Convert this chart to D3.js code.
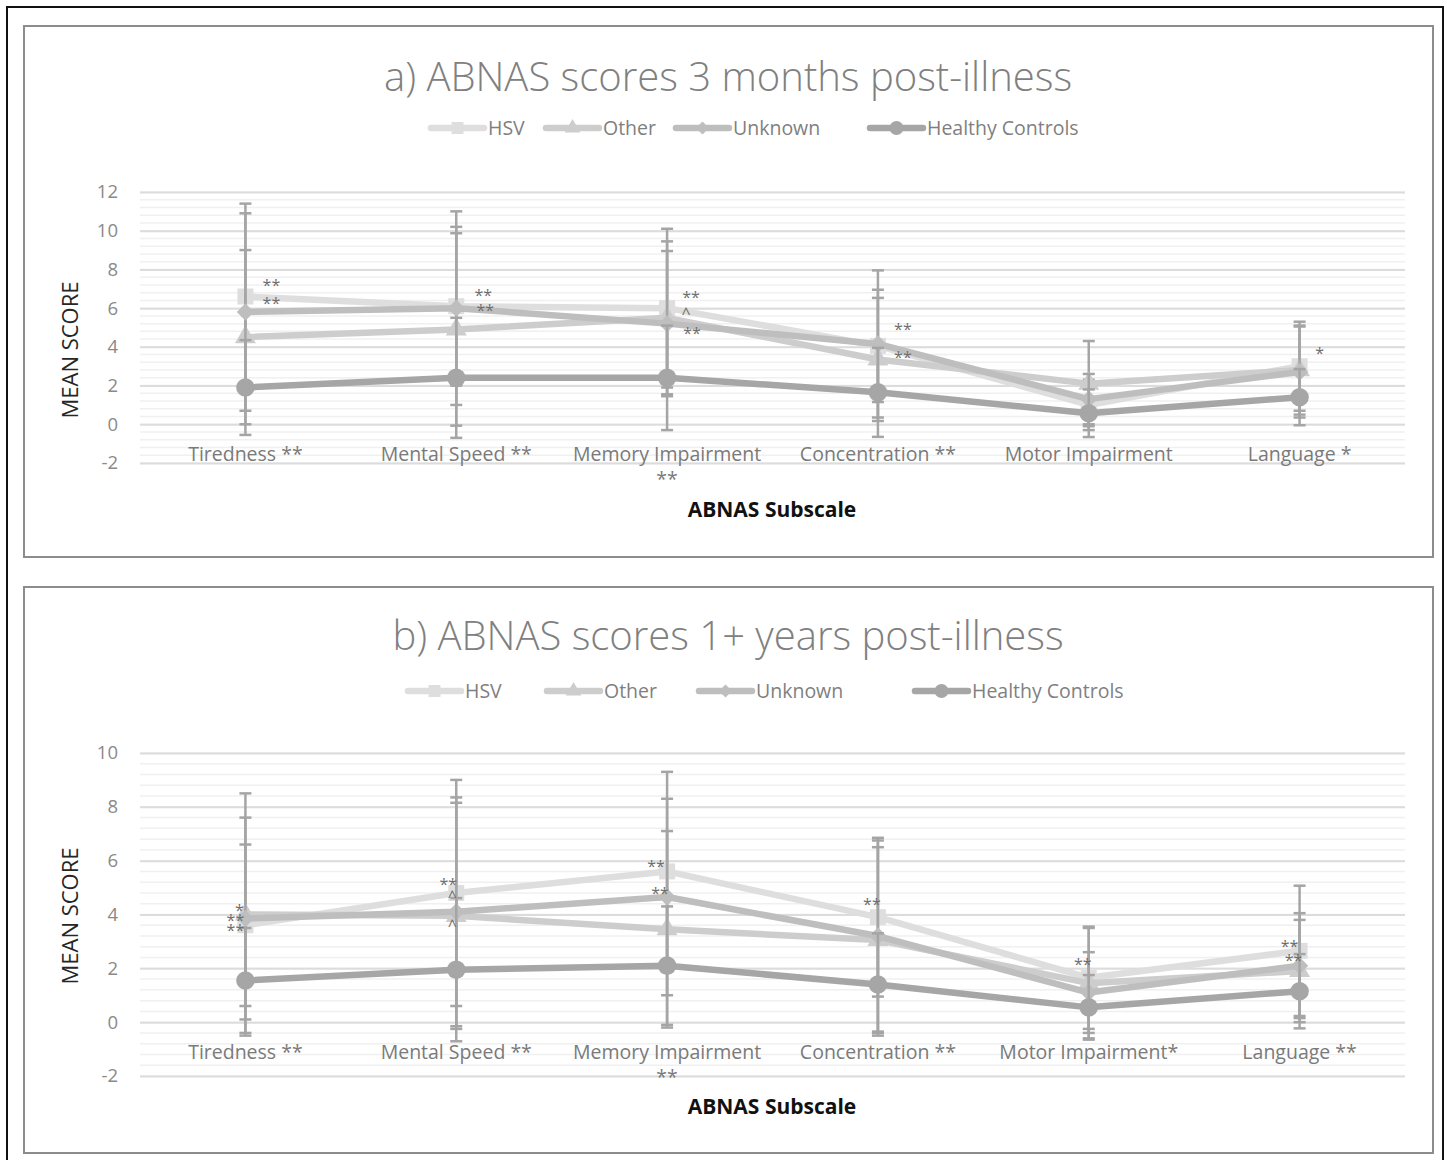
<!DOCTYPE html>
<html>
<head>
<meta charset="utf-8">
<script src="https://cdn.jsdelivr.net/npm/d3@7"></script>
<style>
  body { margin: 0; background: #fff; }
  svg { display: block; }
</style>
</head>
<body>
<div id="chart"></div>
<script>
// ---- data ----
const categories = ["Tiredness", "Mental Speed", "Memory Impairment", "Concentration", "Motor Impairment", "Language"];
const seriesNames = ["HSV", "Other", "Unknown", "Healthy Controls"];

// a) 3 months post-illness
const labelsA = ["Tiredness **", "Mental Speed **", "Memory Impairment|**", "Concentration **", "Motor Impairment", "Language *"];
const hsvA     = [6.6, 6.1, 6.0, 4.05, 1.0, 3.0];
const otherA   = [4.5, 4.9, 5.5, 3.35, 2.1, 2.8];
const unknownA = [5.8, 6.0, 5.2, 4.15, 1.3, 2.7];
const hcA      = [1.9, 2.4, 2.4, 1.65, 0.57, 1.4];
const hsvSdA     = [4.8, 4.1, 4.1, 2.9, 1.3, 2.3];
const otherSdA   = [4.5, 4.97, 3.95, 3.18, 2.2, 2.3];
const unknownSdA = [5.1, 5.0, 3.75, 3.8, 1.3, 2.35];
const hcSdA      = [2.45, 3.1, 2.7, 2.3, 1.23, 1.45];
const yTicksA = [-2, 0, 2, 4, 6, 8, 10, 12];
const notesA = [
  { cat: 0, v: 7.2, t: "**", dx: 26 }, { cat: 0, v: 6.27, t: "**", dx: 26 },
  { cat: 1, v: 6.66, t: "**", dx: 27 }, { cat: 1, v: 5.89, t: "**", dx: 29 },
  { cat: 2, v: 6.58, t: "**", dx: 24 }, { cat: 2, v: 5.75, t: "^", dx: 19 }, { cat: 2, v: 4.71, t: "**", dx: 25 },
  { cat: 3, v: 4.9, t: "**", dx: 25 }, { cat: 3, v: 3.46, t: "**", dx: 25 },
  { cat: 5, v: 3.67, t: "*", dx: 20 }
];

// b) 1+ years post-illness
const labelsB = ["Tiredness **", "Mental Speed **", "Memory Impairment|**", "Concentration **", "Motor Impairment*", "Language **"];
const hsvB     = [3.6, 4.8, 5.6, 3.9, 1.65, 2.65];
const otherB   = [4.0, 3.95, 3.45, 3.05, 1.45, 1.9];
const unknownB = [3.85, 4.1, 4.65, 3.2, 1.1, 2.1];
const hcB      = [1.55, 1.95, 2.1, 1.4, 0.55, 1.15];
const hsvSdB     = [3.0, 4.2, 3.7, 2.95, 1.9, 2.42];
const otherSdB   = [4.5, 4.2, 3.65, 3.45, 2.05, 1.9];
const unknownSdB = [3.75, 4.25, 3.65, 3.55, 1.5, 1.95];
const hcSdB      = [1.95, 2.66, 2.2, 1.9, 1.2, 1.38];
const yTicksB = [-2, 0, 2, 4, 6, 8, 10];
const notesB = [
  { cat: 0, v: 4.17, t: "*", dx: -6 }, { cat: 0, v: 3.79, t: "**", dx: -10 }, { cat: 0, v: 3.42, t: "**", dx: -10 },
  { cat: 1, v: 5.13, t: "**", dx: -8 }, { cat: 1, v: 4.66, t: "^", dx: -4 }, { cat: 1, v: 3.61, t: "^", dx: -4 },
  { cat: 2, v: 5.78, t: "**", dx: -11 }, { cat: 2, v: 4.79, t: "**", dx: -7 },
  { cat: 3, v: 4.39, t: "**", dx: -6 },
  { cat: 4, v: 2.16, t: "**", dx: -6 },
  { cat: 5, v: 2.83, t: "**", dx: -10 }, { cat: 5, v: 2.28, t: "**", dx: -6 }
];

// ---- styles ----
const FONT = "'Open Sans', 'Noto Sans', sans-serif";
const seriesColors = ["#dedede", "#cdcdcd", "#bebebe", "#a6a6a6"];
const seriesSymbols = ["square", "triangle", "diamond", "circle"];
const errColor = "#a5a5a5";

const W = 1447, H = 1160;
const svg = d3.select("#chart").append("svg")
  .attr("width", W).attr("height", H)
  .style("font-family", FONT);

svg.append("rect").attr("width", W).attr("height", H).attr("fill", "#fff");
// outer frame
svg.append("rect")
  .attr("x", 7).attr("y", 7).attr("width", 1436).attr("height", 1170)
  .attr("fill", "none").attr("stroke", "#111").attr("stroke-width", 2);

function symbolPath(kind, s) {
  if (kind === "square") return d3.symbol(d3.symbolSquare, 256 * s * s)();
  if (kind === "triangle") return d3.symbol(d3.symbolTriangle, 190 * s * s)();
  if (kind === "diamond") return d3.symbol(d3.symbolSquare, 150 * s * s)();
  return d3.symbol(d3.symbolCircle, 270 * s * s)();
}

function drawPanel(cfg) {
  const g = svg.append("g");

  g.append("rect")
    .attr("x", cfg.box[0]).attr("y", cfg.box[1])
    .attr("width", cfg.box[2]).attr("height", cfg.box[3])
    .attr("fill", "#fff").attr("stroke", "#8c8c8c").attr("stroke-width", 2);

  const x = d3.scaleBand().domain(categories).range([140, 1405]);
  const cx = c => x(c) + x.bandwidth() / 2;
  const y = d3.scaleLinear().domain(cfg.yDomain).range(cfg.yRange);

  // minor gridlines
  const minor = d3.range(cfg.yDomain[0], cfg.yDomain[1] + 0.001, 0.4);
  g.append("g").selectAll("line").data(minor).join("line")
    .attr("x1", 140).attr("x2", 1405)
    .attr("y1", d => y(d)).attr("y2", d => y(d))
    .attr("stroke", "#f0f0f0").attr("stroke-width", 1.5);

  // major gridlines + tick labels
  const yAxis = g.append("g")
    .attr("transform", "translate(140,0)")
    .call(d3.axisLeft(y).tickValues(cfg.yTicks).tickSize(-1265).tickPadding(22).tickFormat(d => String(d)));
  yAxis.select(".domain").remove();
  yAxis.selectAll(".tick line").attr("stroke", "#dcdcdc").attr("stroke-width", 2);
  yAxis.selectAll(".tick text")
    .attr("fill", "#8a8a8a").style("font-size", "18.5px").style("font-family", FONT);

  // category labels
  const xAxis = g.append("g")
    .attr("transform", `translate(0,${y(0)})`)
    .call(d3.axisBottom(x).tickSize(0).tickPadding(0));
  xAxis.select(".domain").remove();
  xAxis.selectAll(".tick text").each(function (d, i) {
    const t = d3.select(this);
    const parts = cfg.labels[i].split("|");
    t.text(null).attr("y", 0).attr("dy", null)
      .attr("fill", "#7a7a7a").style("font-size", "19.5px").style("font-family", FONT);
    parts.forEach((p, k) => {
      t.append("tspan").attr("x", 0).attr("y", 37 + k * 25).text(p);
    });
  });

  // series
  cfg.series.forEach((s, si) => {
    const pts = categories.map((c, i) => ({ c, v: s.v[i], sd: s.sd[i] }));
    const sg = g.append("g");

    // error bars
    const eb = sg.append("g").selectAll("g").data(pts).join("g");
    eb.append("line")
      .attr("x1", d => cx(d.c)).attr("x2", d => cx(d.c))
      .attr("y1", d => y(d.v - d.sd)).attr("y2", d => y(d.v + d.sd))
      .attr("stroke", errColor).attr("stroke-width", 2.5);
    [-1, 1].forEach(sign => {
      eb.append("line")
        .attr("x1", d => cx(d.c) - 6).attr("x2", d => cx(d.c) + 6)
        .attr("y1", d => y(d.v + sign * d.sd)).attr("y2", d => y(d.v + sign * d.sd))
        .attr("stroke", errColor).attr("stroke-width", 2.5);
    });

    sg.append("path").datum(pts)
      .attr("fill", "none").attr("stroke", seriesColors[si]).attr("stroke-width", 6.5)
      .attr("stroke-linejoin", "round")
      .attr("d", d3.line().x(d => cx(d.c)).y(d => y(d.v)));

    sg.append("g").selectAll("path").data(pts).join("path")
      .attr("d", symbolPath(seriesSymbols[si], 1))
      .attr("transform", d => `translate(${cx(d.c)},${y(d.v)})` + (seriesSymbols[si] === "diamond" ? " rotate(45)" : ""))
      .attr("fill", seriesColors[si]);
  });

  // significance notes
  g.append("g").selectAll("text").data(cfg.notes).join("text")
    .attr("x", d => cx(categories[d.cat]) + d.dx)
    .attr("y", d => y(d.v))
    .attr("dy", "0.35em")
    .attr("text-anchor", "middle")
    .attr("fill", "#6e6e6e").style("font-size", "16px")
    .text(d => d.t);

  // title
  g.append("text")
    .attr("x", 728).attr("y", cfg.titleY)
    .attr("text-anchor", "middle").attr("dy", "0.35em")
    .attr("fill", "#808080").style("font-size", "40px").style("font-weight", 300)
    .text(cfg.title);

  // legend
  const lg = g.append("g").selectAll("g").data(seriesNames).join("g")
    .attr("transform", (d, i) => `translate(${cfg.legendX[i]},${cfg.legendY})`);
  lg.append("line").attr("x1", 0).attr("x2", 53)
    .attr("stroke", (d, i) => seriesColors[i]).attr("stroke-width", 6.5).attr("stroke-linecap", "round");
  lg.append("path")
    .attr("d", (d, i) => symbolPath(seriesSymbols[i], 0.75))
    .attr("transform", (d, i) => `translate(26.5,0)` + (seriesSymbols[i] === "diamond" ? " rotate(45)" : ""))
    .attr("fill", (d, i) => seriesColors[i]);
  lg.append("text").attr("x", 57).attr("dy", "0.35em")
    .attr("fill", "#7f7f7f").style("font-size", "19.5px")
    .text(d => d);

  // axis titles
  g.append("text")
    .attr("transform", `translate(70,${cfg.yTitleY}) rotate(-90)`)
    .attr("text-anchor", "middle").attr("dy", "0.35em")
    .attr("fill", "#262626").style("font-size", "22px")
    .text("MEAN SCORE");
  g.append("text")
    .attr("x", 772).attr("y", cfg.xTitleY)
    .attr("text-anchor", "middle").attr("dy", "0.35em")
    .attr("fill", "#111").style("font-size", "21px").style("font-weight", "bold")
    .text("ABNAS Subscale");
}

drawPanel({
  box: [24, 26, 1409, 531],
  title: "a) ABNAS scores 3 months post-illness", titleY: 77,
  legendX: [431, 546, 676, 870], legendY: 128,
  yDomain: [-2, 12], yRange: [463, 192], yTicks: yTicksA,
  labels: labelsA, notes: notesA,
  yTitleY: 350, xTitleY: 510,
  series: [
    { v: hsvA, sd: hsvSdA }, { v: otherA, sd: otherSdA },
    { v: unknownA, sd: unknownSdA }, { v: hcA, sd: hcSdA }
  ]
});

drawPanel({
  box: [24, 587, 1409, 566],
  title: "b) ABNAS scores 1+ years post-illness", titleY: 636,
  legendX: [408, 547, 699, 915], legendY: 691,
  yDomain: [-2, 10], yRange: [1076, 753], yTicks: yTicksB,
  labels: labelsB, notes: notesB,
  yTitleY: 916, xTitleY: 1107,
  series: [
    { v: hsvB, sd: hsvSdB }, { v: otherB, sd: otherSdB },
    { v: unknownB, sd: unknownSdB }, { v: hcB, sd: hcSdB }
  ]
});
</script>
</body>
</html>
